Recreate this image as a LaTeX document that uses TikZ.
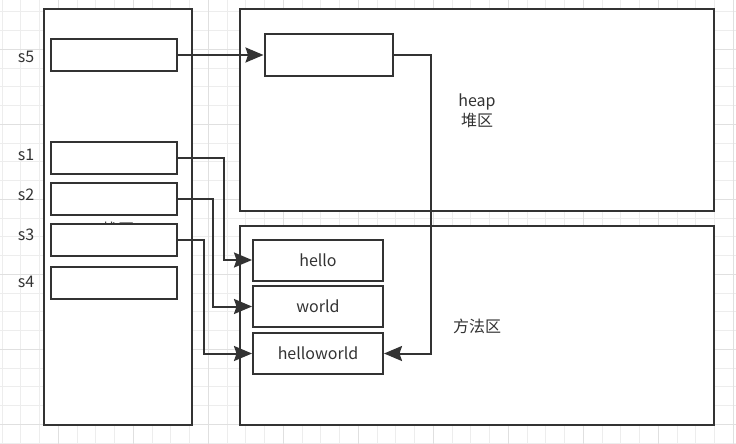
\documentclass[tikz,border=0pt]{standalone}
\usepackage{fontspec}
\setmainfont{Noto Sans CJK SC}
\usetikzlibrary{arrows.meta}
\definecolor{ink}{HTML}{333333}
\definecolor{gridminor}{HTML}{EDEDED}
\definecolor{gridmajor}{HTML}{E0E0E0}
\begin{document}
\begin{tikzpicture}[x=1pt,y=-1pt,
  area/.style={draw=ink,line width=2pt,fill=white,rectangle,inner sep=0pt},
  slot/.style={draw=ink,line width=2pt,fill=white,rectangle,inner sep=0pt,minimum width=126pt,minimum height=32pt},
  strbox/.style={draw=ink,line width=2pt,fill=white,rectangle,inner sep=0pt,minimum width=130pt,minimum height=41pt,font=\fontsize{16pt}{18pt}\selectfont,text=ink},
  lbl/.style={font=\fontsize{16pt}{19pt}\selectfont,text=ink,inner sep=0pt,align=center},
  arr/.style={draw=ink,line width=2pt,-{Stealth[length=18pt,width=15pt,inset=2.5pt]}}]
\useasboundingbox (0,0) rectangle (736,444);
\fill[white] (0,0) rectangle (736,444);
% grid
\foreach \i in {0,...,39} {\draw[gridminor,line width=1pt] ({2+18.75*\i},0) -- ({2+18.75*\i},444);}
\foreach \j in {0,...,24} {\draw[gridminor,line width=1pt] (0,{11.8+18.75*\j}) -- (736,{11.8+18.75*\j});}
\foreach \i in {0,...,9} {\draw[gridmajor,line width=1pt] ({58.25+75*\i},0) -- ({58.25+75*\i},444);}
\foreach \j in {0,...,5} {\draw[gridmajor,line width=1pt] (0,{49.3+75*\j}) -- (736,{49.3+75*\j});}
% areas
\node[area,minimum width=148pt,minimum height=416pt] (stack) at (118,217) {};
\node[area,minimum width=474pt,minimum height=202pt] (heap) at (477,110) {};
\node[area,minimum width=474pt,minimum height=199pt] (method) at (477,325.5) {};
% area labels
\node[lbl] (stacklbl) at (118,229) {栈区};
\node[lbl] (heaplbl) at (477,110.5) {heap\\[1pt]堆区};
\node[lbl] (methodlbl) at (477,326) {方法区};
% stack slots
\node[slot] (s5) at (114,55) {};
\node[slot] (s1) at (114,157.5) {};
\node[slot] (s2) at (114,199) {};
\node[slot] (s3) at (114,239.5) {};
\node[slot] (s4) at (114,282.5) {};
\node[lbl] (l5) at (26,57) {s5};
\node[lbl] (l1) at (26,155) {s1};
\node[lbl] (l2) at (26,195) {s2};
\node[lbl] (l3) at (26,235) {s3};
\node[lbl] (l4) at (26,282) {s4};
% heap object
\node[area,minimum width=128pt,minimum height=42pt] (obj) at (328.5,55) {};
% method area strings
\node[strbox] (hello) at (318,260) {hello};
\node[strbox] (world) at (318,306.5) {world};
\node[strbox] (hw) at (318,353.5) {helloworld};
% connectors
\draw[arr] (s5.east) -- (obj.west);
\draw[arr] (s1.east) -| ([xshift=-28pt]hello.west) -- (hello.west);
\draw[arr] (s2.east) -| ([xshift=-39pt]world.west) -- (world.west);
\draw[arr] (s3.east) -| ([xshift=-48pt]hw.west) -- (hw.west);
\draw[arr] (obj.east) -| ([xshift=47pt]hw.east) -- (hw.east);
\end{tikzpicture}
\end{document}
